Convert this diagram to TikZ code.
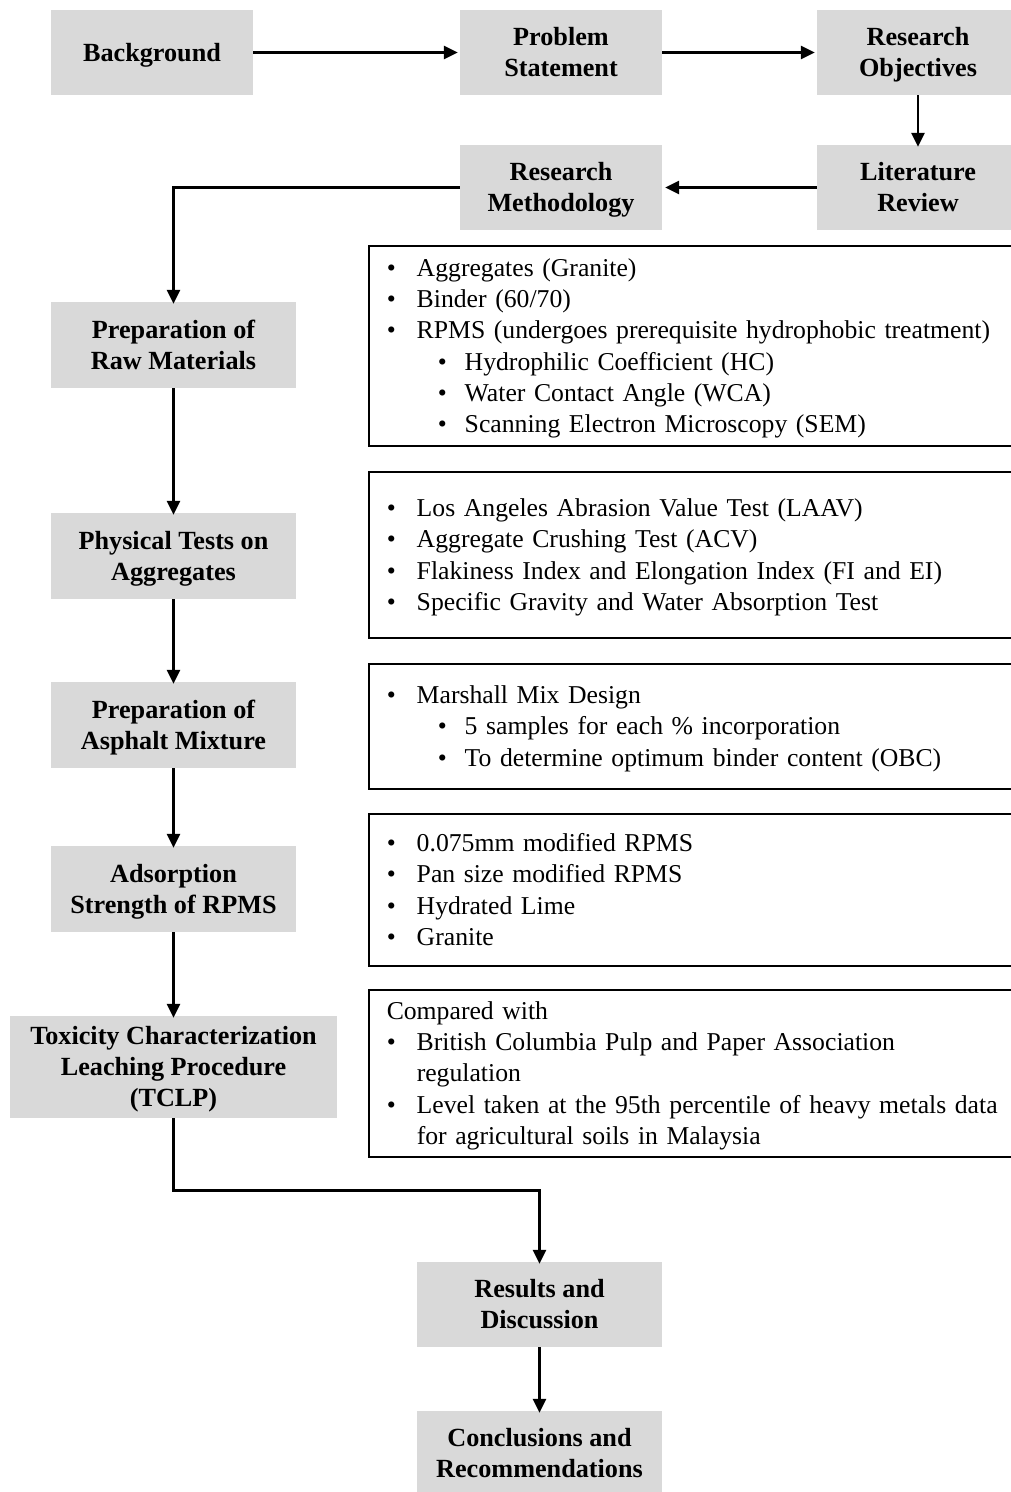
\documentclass[tikz,border=0pt]{standalone}
\usepackage{fontspec}
\setmainfont{Liberation Serif}
\usetikzlibrary{arrows.meta}
\definecolor{boxgray}{HTML}{D9D9D9}
\newcommand{\gs}{\rule[-5.7pt]{0pt}{29pt}}
\newcommand{\ts}{\rule[-5.55pt]{0pt}{28.45pt}}
\newcommand{\bitem}[1]{\ts\makebox[30pt][l]{•}#1}
\newcommand{\sitem}[1]{\ts\hspace*{51pt}\makebox[27pt][l]{•}#1}
\begin{document}
\begin{tikzpicture}[x=1pt,y=-1pt,
  gbox/.style={fill=boxgray, font=\fontsize{26.2}{31}\selectfont\bfseries, align=center, inner sep=0pt, minimum height=85pt},
  tbox/.style={draw, line width=1.5pt, anchor=north west, align=left, text width=720pt, inner xsep=18pt, inner ysep=0pt, font=\fontsize{25.7}{31.2}\selectfont},
  arr/.style={line width=2.6pt, -{Triangle[length=14pt,width=13pt]}}]
\useasboundingbox (0,0) rectangle (1010,1492);
% gray boxes
\node[gbox, minimum width=202pt] (bg) at (152,52.5) {\gs Background};
\node[gbox, minimum width=202pt] (ps) at (561,52.5) {\gs Problem\\\gs Statement};
\node[gbox, minimum width=202pt] (ro) at (918,52.5) {\gs Research\\\gs Objectives};
\node[gbox, minimum width=202pt] (lr) at (918,187.5) {\gs Literature\\\gs Review};
\node[gbox, minimum width=202pt] (rm) at (561,187.5) {\gs Research\\\gs Methodology};
\node[gbox, minimum width=245pt, minimum height=86pt] (pr) at (173.5,345) {\gs Preparation of\\\gs Raw Materials};
\node[gbox, minimum width=245pt, minimum height=86pt] (pt) at (173.5,556) {\gs Physical Tests on\\\gs Aggregates};
\node[gbox, minimum width=245pt, minimum height=86pt] (pa) at (173.5,725) {\gs Preparation of\\\gs Asphalt Mixture};
\node[gbox, minimum width=245pt, minimum height=86pt] (as) at (173.5,889) {\gs Adsorption\\\gs Strength of RPMS};
\node[gbox, minimum width=327pt, minimum height=102pt] (tc) at (173.5,1067) {\gs Toxicity Characterization\\\gs Leaching Procedure\\\gs (TCLP)};
\node[gbox, minimum width=245pt] (rd) at (539.5,1304.5) {\gs Results and\\\gs Discussion};
\node[gbox, minimum width=245pt] (cr) at (539.5,1453.5) {\gs Conclusions and\\\gs Recommendations};
% text boxes
\node[tbox, minimum height=200pt] (t1) at (368,245) {\bitem{Aggregates (Granite)}\\\bitem{Binder (60/70)}\\\bitem{RPMS (undergoes prerequisite hydrophobic treatment)}\\\sitem{Hydrophilic Coefficient (HC)}\\\sitem{Water Contact Angle (WCA)}\\\sitem{Scanning Electron Microscopy (SEM)}};
\node[tbox, minimum height=166pt] (t2) at (368,471) {\bitem{Los Angeles Abrasion Value Test (LAAV)}\\\bitem{Aggregate Crushing Test (ACV)}\\\bitem{Flakiness Index and Elongation Index (FI and EI)}\\\bitem{Specific Gravity and Water Absorption Test}};
\node[tbox, minimum height=125pt] (t3) at (368,663) {\bitem{Marshall Mix Design}\\\sitem{5 samples for each \% incorporation}\\\sitem{To determine optimum binder content (OBC)}};
\node[tbox, minimum height=152pt] (t4) at (368,813) {\bitem{0.075mm modified RPMS}\\\bitem{Pan size modified RPMS}\\\bitem{Hydrated Lime}\\\bitem{Granite}};
\node[tbox, minimum height=167pt] (t5) at (368,989) {\ts Compared with\\\bitem{British Columbia Pulp and Paper Association}\\\ts\hspace*{30pt}regulation\\\bitem{Level taken at the 95th percentile of heavy metals data}\\\ts\hspace*{30pt}for agricultural soils in Malaysia};
% connectors
\draw[arr] (bg.east) -- ([xshift=-2pt]ps.west);
\draw[arr] (ps.east) -- ([xshift=-2pt]ro.west);
\draw[arr] (ro.south) -- ([yshift=-2pt]lr.north);
\draw[arr] (lr.west) -- ([xshift=3pt]rm.east);
\draw[arr] (rm.west) -| ([yshift=-2pt]pr.north);
\draw[arr] (pr.south) -- ([yshift=-2pt]pt.north);
\draw[arr] (pt.south) -- ([yshift=-2pt]pa.north);
\draw[arr] (pa.south) -- ([yshift=-2pt]as.north);
\draw[arr] (as.south) -- ([yshift=-2pt]tc.north);
\draw[arr] (tc.south) -- ++(0,72) -| ([yshift=-2pt]rd.north);
\draw[arr] (rd.south) -- ([yshift=-2pt]cr.north);
\end{tikzpicture}
\end{document}
